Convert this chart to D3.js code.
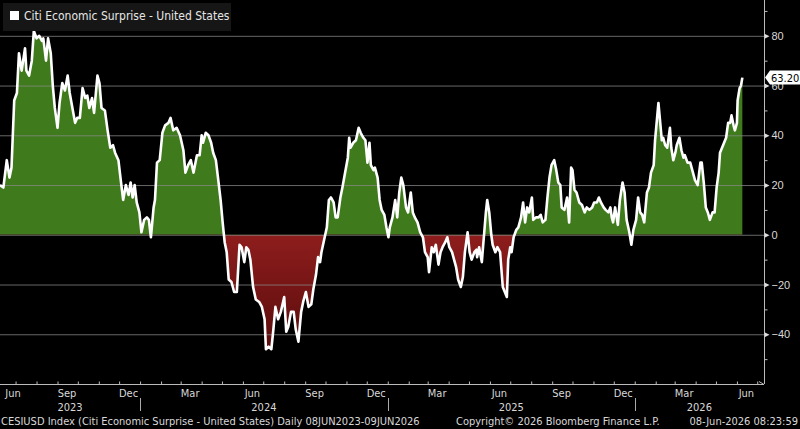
<!DOCTYPE html>
<html>
<head>
<meta charset="utf-8">
<script src="https://cdn.jsdelivr.net/npm/d3@7"></script>
<style>
  html, body { margin: 0; padding: 0; background: #000; }
  svg { display: block; font-family: "DejaVu Sans Condensed", "DejaVu Sans", sans-serif; }
</style>
</head>
<body>
<div id="chart"></div>
<script>
// CESIUSD Index
const dates = [
  '2023-06-08','2023-06-13','2023-06-18','2023-06-22','2023-06-25','2023-06-29','2023-07-03','2023-07-06','2023-07-10','2023-07-15',
  '2023-07-17','2023-07-21','2023-07-25','2023-07-28','2023-08-01','2023-08-05','2023-08-09','2023-08-11','2023-08-15','2023-08-18',
  '2023-08-22','2023-08-25','2023-08-28','2023-09-01','2023-09-04','2023-09-08','2023-09-12','2023-09-16','2023-09-19','2023-09-23',
  '2023-09-27','2023-09-30','2023-10-04','2023-10-08','2023-10-12','2023-10-15','2023-10-18','2023-10-22','2023-10-25','2023-10-30',
  '2023-11-02','2023-11-05','2023-11-10','2023-11-14','2023-11-18','2023-11-22','2023-11-25','2023-11-30','2023-12-03','2023-12-07',
  '2023-12-11','2023-12-15','2023-12-18','2023-12-21','2023-12-24','2023-12-27','2023-12-31','2024-01-03','2024-01-07','2024-01-11',
  '2024-01-14','2024-01-17','2024-01-21','2024-01-23','2024-01-26','2024-01-30','2024-02-03','2024-02-07','2024-02-12','2024-02-15',
  '2024-02-19','2024-02-24','2024-02-29','2024-03-05','2024-03-08','2024-03-12','2024-03-16','2024-03-20','2024-03-25','2024-03-29',
  '2024-04-01','2024-04-03','2024-04-07','2024-04-11','2024-04-15','2024-04-18','2024-04-22','2024-04-26','2024-04-29','2024-05-02',
  '2024-05-05','2024-05-08','2024-05-11','2024-05-15','2024-05-19','2024-05-23','2024-05-27','2024-05-30','2024-06-03','2024-06-06',
  '2024-06-09','2024-06-12','2024-06-16','2024-06-20','2024-06-25','2024-06-29','2024-07-03','2024-07-05','2024-07-09','2024-07-13',
  '2024-07-16','2024-07-19','2024-07-23','2024-07-27','2024-08-01','2024-08-04','2024-08-07','2024-08-11','2024-08-15','2024-08-18',
  '2024-08-22','2024-08-26','2024-08-29','2024-09-02','2024-09-06','2024-09-10','2024-09-13','2024-09-17','2024-09-20','2024-09-23',
  '2024-09-25','2024-09-29','2024-10-03','2024-10-06','2024-10-09','2024-10-13','2024-10-16','2024-10-19','2024-10-23','2024-10-26',
  '2024-10-30','2024-11-03','2024-11-05','2024-11-07','2024-11-11','2024-11-15','2024-11-19','2024-11-22','2024-11-26','2024-11-29',
  '2024-12-02','2024-12-05','2024-12-07','2024-12-11','2024-12-13','2024-12-17','2024-12-20','2024-12-23','2024-12-27','2024-12-30',
  '2025-01-02','2025-01-04','2025-01-08','2025-01-12','2025-01-15','2025-01-18','2025-01-21','2025-01-24','2025-01-28','2025-01-31',
  '2025-02-04','2025-02-07','2025-02-10','2025-02-14','2025-02-18','2025-02-22','2025-02-25','2025-03-01','2025-03-03','2025-03-07',
  '2025-03-10','2025-03-13','2025-03-17','2025-03-20','2025-03-23','2025-03-27','2025-03-30','2025-04-02','2025-04-06','2025-04-09',
  '2025-04-12','2025-04-15','2025-04-19','2025-04-22','2025-04-25','2025-04-29','2025-05-02','2025-05-05','2025-05-09','2025-05-12',
  '2025-05-13','2025-05-16','2025-05-20','2025-05-23','2025-05-26','2025-05-28','2025-05-31','2025-06-03','2025-06-05','2025-06-09',
  '2025-06-12','2025-06-16','2025-06-20','2025-06-23','2025-06-26','2025-06-28','2025-07-01','2025-07-03','2025-07-06','2025-07-10',
  '2025-07-13','2025-07-17','2025-07-20','2025-07-23','2025-07-26','2025-07-29','2025-08-02','2025-08-04','2025-08-08','2025-08-12',
  '2025-08-15','2025-08-18','2025-08-22','2025-08-25','2025-08-28','2025-08-31','2025-09-04','2025-09-07','2025-09-10','2025-09-13',
  '2025-09-15','2025-09-19','2025-09-23','2025-09-26','2025-09-29','2025-10-01','2025-10-04','2025-10-07','2025-10-11','2025-10-15',
  '2025-10-19','2025-10-22','2025-10-26','2025-10-30','2025-11-02','2025-11-06','2025-11-09','2025-11-12','2025-11-16','2025-11-19',
  '2025-11-23','2025-11-26','2025-11-28','2025-11-30','2025-12-03','2025-12-07','2025-12-10','2025-12-14','2025-12-17','2025-12-20',
  '2025-12-24','2025-12-27','2025-12-30','2026-01-03','2026-01-06','2026-01-09','2026-01-12','2026-01-15','2026-01-19','2026-01-22',
  '2026-01-25','2026-01-29','2026-01-31','2026-02-03','2026-02-05','2026-02-07','2026-02-10','2026-02-12','2026-02-15','2026-02-18',
  '2026-02-22','2026-02-24','2026-02-27','2026-03-02','2026-03-04','2026-03-08','2026-03-11','2026-03-14','2026-03-16','2026-03-20',
  '2026-03-24','2026-03-27','2026-03-31','2026-04-04','2026-04-08','2026-04-10','2026-04-13','2026-04-16','2026-04-19','2026-04-22',
  '2026-04-26','2026-04-29','2026-05-02','2026-05-05','2026-05-07','2026-05-10','2026-05-13','2026-05-16','2026-05-19','2026-05-22',
  '2026-05-24','2026-05-27','2026-05-29','2026-06-01','2026-06-02','2026-06-05','2026-06-07','2026-06-09'
];
const values = [
  20, 19, 30, 23, 27, 54, 57, 73, 66, 75,
  66, 64, 70, 82, 79, 80, 78, 79, 70, 79,
  73, 60, 51, 43, 53, 61, 58, 64, 57, 51,
  45, 47, 47, 59, 55, 56, 51, 55, 49, 64,
  61, 51, 50, 42, 35, 36, 33, 30, 23, 14,
  20, 16, 21, 15, 20, 13, 9, 1, 6, 7,
  6, -1, 11, 14, 29, 30, 41, 44, 45, 47,
  42, 43, 40, 34, 25, 28, 30, 25, 32, 32,
  40, 37, 41, 40, 37, 33, 30, 21, 14, 5,
  -3, -7, -18, -19, -23, -23, -4, -5, -11, -5,
  -6, -10, -21, -26, -27, -29, -34, -46, -45, -46,
  -38, -29, -34, -31, -25, -39, -37, -31, -31, -38,
  -43, -31, -27, -23, -29, -28, -22, -16, -9, -11,
  -7, -2, 3, 14, 15, 13, 7, 7, 15, 19,
  25, 31, 39, 35, 37, 38, 43, 41, 39, 38,
  29, 37, 28, 26, 27, 23, 14, 10, 8, 3,
  -1, 3, 7, 14, 7, 17, 23, 20, 11, 9,
  17, 9, 7, 5, 1, -1, -7, -9, -15, -5,
  -7, -4, -12, -7, -5, -3, -1, -5, -7, -10,
  -13, -18, -21, -17, -7, 1, -7, -10, -7, -6,
  -9, -5, -11, -1, 9, 14, 9, 0, -4, -7,
  -5, -7, -21, -23, -25, -10, -5, -7, -1, 2,
  3, 7, 13, 5, 11, 9, 15, 6, 7, 7,
  8, 5, 6, 15, 23, 28, 30, 26, 21, 20,
  11, 10, 15, 5, 27, 26, 18, 17, 13, 12,
  9, 11, 10, 11, 13, 13, 15, 13, 11, 10,
  9, 11, 7, 5, 11, 4, 14, 21, 17, 6,
  1, -4, 2, 6, 15, 9, 8, 5, 17, 19,
  25, 28, 38, 47, 53, 47, 38, 39, 36, 35,
  43, 35, 30, 33, 36, 39, 34, 31, 32, 29,
  29, 26, 22, 20, 29, 29, 21, 11, 9, 6,
  9, 9, 19, 25, 33, 35, 37, 39, 45, 45,
  48, 44, 42, 45, 54, 59, 60, 63.2
];

const yTicks = [-40, -20, 0, 20, 40, 60, 80];
const yMinorTicks = [-50, -30, -10, 10, 30, 50, 70, 90];
const legendLabel = 'Citi Economic Surprise - United States';
const lastLabel = '63.20';
const footerLeft = 'CESIUSD Index (Citi Economic Surprise - United States) Daily 08JUN2023-09JUN2026';
const footerMid = 'Copyright\u00a9 2026 Bloomberg Finance L.P.';
const footerRight = '08-Jun-2026 08:23:59';

const W = 800, H = 429;
const plotRight = 764, plotBottom = 384;
const parse = d3.timeParse('%Y-%m-%d');
const data = dates.map((d, i) => ({ date: parse(d), value: values[i] }));

const x = d3.scaleTime()
	.domain([parse('2023-06-08'), parse('2026-07-11')])
	.range([0, plotRight]);
const y = d3.scaleLinear().domain([-60, 94.4]).range([plotBottom, 0]);

const svg = d3.select('#chart').append('svg')
	.attr('width', W).attr('height', H);

svg.append('rect').attr('width', W).attr('height', H).attr('fill', '#000');

const defs = svg.append('defs');
const redGrad = defs.append('linearGradient').attr('id', 'redGrad')
	.attr('gradientUnits', 'userSpaceOnUse')
	.attr('x1', 0).attr('x2', 0).attr('y1', y(0)).attr('y2', y(-46));
redGrad.append('stop').attr('offset', '0%').attr('stop-color', '#8e1d1d');
redGrad.append('stop').attr('offset', '100%').attr('stop-color', '#5a0c0c');

defs.append('clipPath').attr('id', 'clipPos').append('rect')
	.attr('x', 0).attr('y', 0).attr('width', plotRight).attr('height', y(0));
defs.append('clipPath').attr('id', 'clipNeg').append('rect')
	.attr('x', 0).attr('y', y(0)).attr('width', plotRight).attr('height', plotBottom - y(0));

// Filled areas, green above zero and red below
const area = d3.area()
	.x((d) => x(d.date))
	.y0(y(0))
	.y1((d) => y(d.value));

svg.append('path').datum(data)
	.attr('d', area).attr('fill', '#3f7b1c')
	.attr('clip-path', 'url(#clipPos)');
svg.append('path').datum(data)
	.attr('d', area).attr('fill', 'url(#redGrad)')
	.attr('clip-path', 'url(#clipNeg)');

// Horizontal grid lines
svg.append('g').selectAll('line')
	.data(yTicks).enter().append('line')
	.attr('x1', 0).attr('x2', plotRight)
	.attr('y1', (d) => y(d) + 0.5).attr('y2', (d) => y(d) + 0.5)
	.attr('stroke', '#8a8a8a').attr('stroke-width', 1).attr('opacity', 0.75);

// The series line
svg.append('path').datum(data)
	.attr('d', d3.line().x((d) => x(d.date)).y((d) => y(d.value)))
	.attr('fill', 'none').attr('stroke', '#fff')
	.attr('stroke-width', 2.6).attr('stroke-linejoin', 'round');

// Right axis
const yAxis = svg.append('g').attr('transform', `translate(${plotRight + 0.5},0)`)
	.call(d3.axisRight(y).tickValues(yTicks).tickSize(0).tickPadding(7));
yAxis.select('.domain').attr('stroke', '#bbb').attr('d', `M0,0V${plotBottom}`);
yAxis.selectAll('text').attr('fill', '#d8d8d8').style('font-size', '11px');
yAxis.selectAll('.tick').append('path')
	.attr('d', 'M0,-2.5L5,0L0,2.5Z').attr('fill', '#ddd');
svg.append('g').attr('transform', `translate(${plotRight + 0.5},0)`)
	.call(d3.axisRight(y).tickValues(yMinorTicks).tickSize(3).tickFormat(''))
	.call((g) => g.select('.domain').remove())
	.selectAll('line').attr('stroke', '#bbb');

// Bottom axis: month ticks, quarter labels, years
const xAxis = svg.append('g').attr('transform', `translate(0,${plotBottom + 0.5})`)
	.call(d3.axisBottom(x).ticks(d3.timeMonth.every(1)).tickSize(-3).tickFormat(''));
xAxis.select('.domain').attr('stroke', '#bbb').attr('d', `M0,0H${plotRight}`);
xAxis.selectAll('line').attr('stroke', '#bbb');
xAxis.append('path').attr('d', `M${plotRight - 5},-3L${plotRight},0`)
	.attr('stroke', '#bbb');

const quarterDates = d3.timeMonth
	.range(parse('2023-06-01'), parse('2026-07-01'), 3)
	.map((d) => d3.timeDay.offset(d, 14));
svg.append('g').selectAll('text')
	.data(quarterDates).enter().append('text')
	.attr('x', (d) => Math.max(13, x(d)))
	.attr('y', 397)
	.attr('text-anchor', 'middle')
	.attr('fill', '#d8d8d8').style('font-size', '11px')
	.text(d3.timeFormat('%b'));

const yearStarts = [parse('2024-01-01'), parse('2025-01-01'), parse('2026-01-01')];
const bounds = [0, ...yearStarts.map(x), plotRight];
svg.append('g').selectAll('line')
	.data(yearStarts).enter().append('line')
	.attr('x1', (d) => Math.round(x(d)) + 0.5).attr('x2', (d) => Math.round(x(d)) + 0.5)
	.attr('y1', 398).attr('y2', 411)
	.attr('stroke', '#aaa');
svg.append('g').selectAll('text')
	.data(['2023', '2024', '2025', '2026']).enter().append('text')
	.attr('x', (d, i) => (bounds[i] + bounds[i + 1]) / 2)
	.attr('y', 411)
	.attr('text-anchor', 'middle')
	.attr('fill', '#d8d8d8').style('font-size', '11px')
	.text((d) => d);

// Footer
const footer = svg.append('g').attr('fill', '#d8d8d8').style('font-size', '11px');
footer.append('text').attr('x', 1).attr('y', 425).text(footerLeft);
footer.append('text').attr('x', 456).attr('y', 425).text(footerMid);
footer.append('text').attr('x', 798).attr('y', 425).attr('text-anchor', 'end').text(footerRight);

// Legend
svg.append('rect').attr('x', 3).attr('y', 3).attr('width', 228).attr('height', 28)
	.attr('fill', '#161616');
svg.append('rect').attr('x', 10).attr('y', 11).attr('width', 9).attr('height', 9)
	.attr('fill', '#fff');
svg.append('text').attr('x', 24).attr('y', 20)
	.attr('fill', '#e6e6e6').style('font-size', '12px')
	.text(legendLabel);

// Last value tag
const last = data[data.length - 1];
const ly = y(last.value);
svg.append('path')
	.attr('d', `M${plotRight + 1},${ly}L${plotRight + 6},${ly - 7}H${W}V${ly + 7}H${plotRight + 6}Z`)
	.attr('fill', '#fff');
svg.append('text').attr('x', plotRight + 7).attr('y', ly + 4)
	.attr('fill', '#000').style('font-size', '11px')
	.text(lastLabel);
</script>
</body>
</html>
